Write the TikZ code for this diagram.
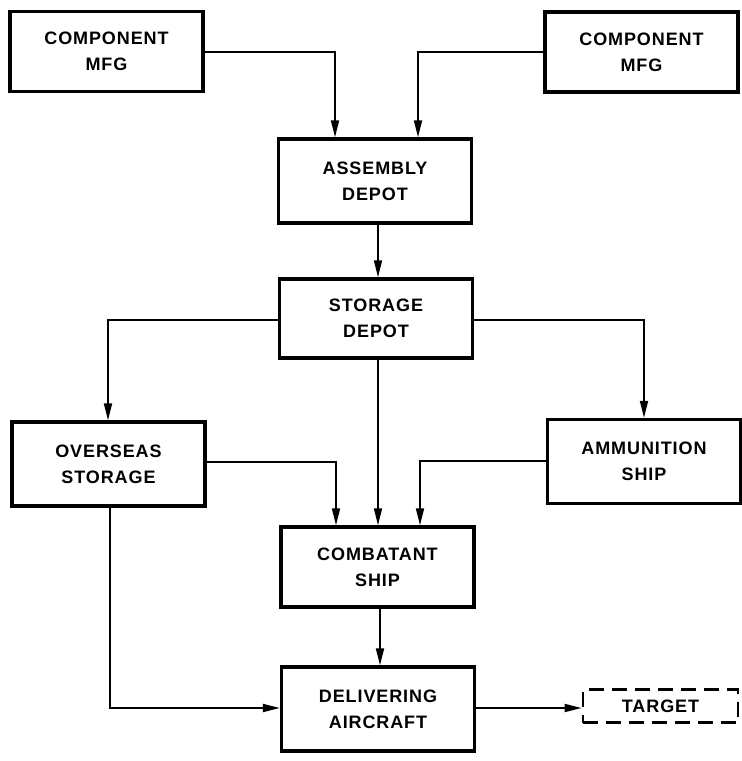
\documentclass[tikz,border=0pt]{standalone}
\usepackage{fontspec}
\setmainfont{Liberation Sans}
\usetikzlibrary{arrows.meta}
\begin{document}
\begin{tikzpicture}[x=1pt,y=-1pt,
  blk/.style={draw,line width=3.4pt,minimum width=#1,align=center,inner sep=0pt,
    font=\bfseries\fontsize{18}{26}\selectfont\addfontfeatures{LetterSpace=5}},
  blk/.default=193pt,
  conn/.style={line width=1.8pt,-{Triangle[length=17pt,width=8pt]}},
  line/.style={line width=1.8pt}]
\useasboundingbox (0,0) rectangle (742,761);
\node[blk, minimum height=80pt] (compL) at (106.5,51.5) {COMPONENT\\MFG};
\node[blk, minimum height=80pt] (compR) at (641.5,52) {COMPONENT\\MFG};
\node[blk, minimum height=84pt] (asm) at (375,181) {ASSEMBLY\\DEPOT};
\node[blk, minimum height=79pt] (stor) at (376,318.5) {STORAGE\\DEPOT};
\node[blk, minimum height=84pt] (over) at (108.5,464) {OVERSEAS\\STORAGE};
\node[blk, minimum height=84pt] (ammo) at (644,461.5) {AMMUNITION\\SHIP};
\node[blk, minimum height=80pt] (comb) at (377.5,567) {COMBATANT\\SHIP};
\node[blk, minimum height=84pt] (deliv) at (378,709) {DELIVERING\\AIRCRAFT};
\node[blk=155pt, minimum height=33pt, dashed, dash pattern=on 15pt off 8pt, line width=2.8pt] (tgt) at (660.5,706) {TARGET};
\draw[conn] (compL.east |- 0,52) -| (asm.north -| 335,0);
\draw[conn] (compR.west |- 0,52) -| (asm.north -| 418,0);
\draw[conn] (asm.south -| 378,0) -- (stor.north -| 378,0);
\draw[conn] (stor.west |- 0,320) -| (over.north -| 108,0);
\draw[conn] (stor.east |- 0,320) -| (ammo.north -| 644,0);
\draw[conn] (stor.south -| 378,0) -- (comb.north -| 378,0);
\draw[conn] (over.east |- 0,462) -| (comb.north -| 336,0);
\draw[conn] (ammo.west |- 0,461) -| (comb.north -| 420,0);
\draw[conn] (comb.south -| 380,0) -- (deliv.north -| 380,0);
\draw[conn] (over.south -| 110,0) |- (deliv.west |- 0,708);
\draw[conn] (deliv.east |- 0,708) -- (tgt.west |- 0,708);
\end{tikzpicture}
\end{document}
